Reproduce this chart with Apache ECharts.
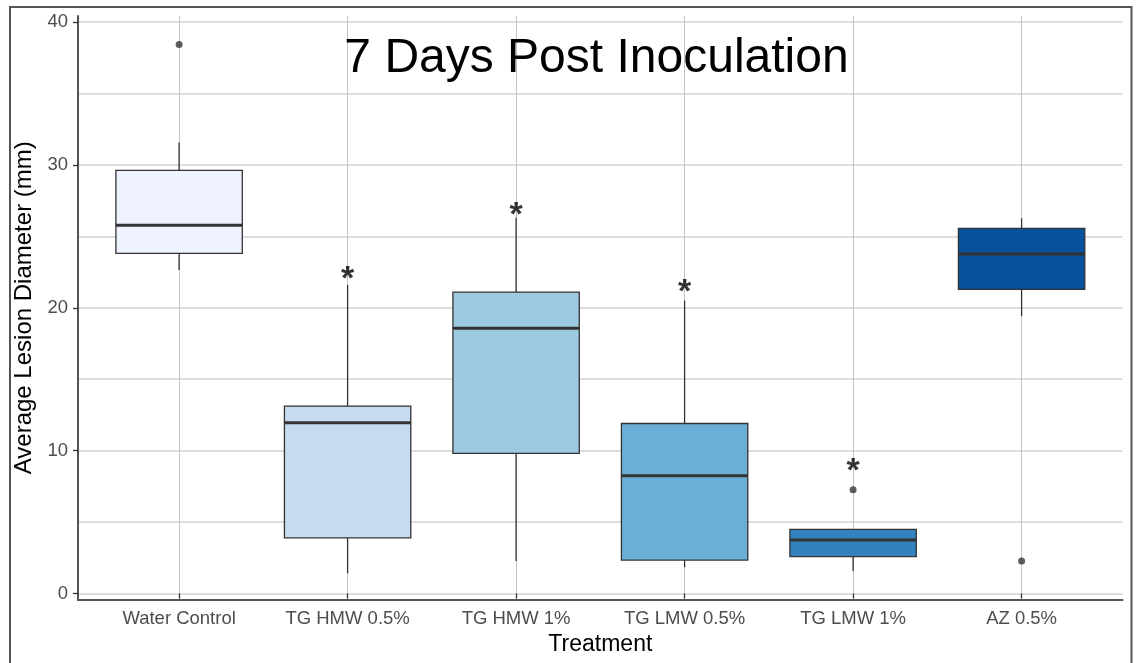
<!DOCTYPE html>
<html lang="en">
<head>
    <meta http-equiv="Content-Type" content="text/html; charset=UTF-8">
    <title>7 Days Post Inoculation</title>
    <script type="text/javascript" src="https://cdn.jsdelivr.net/npm/echarts@6/dist/echarts.min.js"></script>
</head>
<body style="margin:0;width:1140px;height:663px;background:#fff">

<div id="main" style="width:1140px;height:663px"></div>

<script type="text/javascript">
    // values
    var categories = ['Water Control', 'TG HMW 0.5%', 'TG HMW 1%', 'TG LMW 0.5%', 'TG LMW 1%', 'AZ 0.5%'];
    var whiskerLow  = [22.64, 1.41, 2.27, 1.83, 1.57, 19.42];
    var q1          = [23.81, 3.90, 9.81, 2.34, 2.58, 21.29];
    var medians     = [25.77, 11.95, 18.56, 8.24, 3.74, 23.76];
    var q3          = [29.62, 13.12, 21.10, 11.90, 4.49, 25.56];
    var whiskerHigh = [31.57, 21.59, 26.30, 20.50, 4.49, 26.26];
    var outliers    = [[0, 38.43], [4, 7.26], [5, 2.27]];
    var asterisks   = [[1, 22.3], [2, 26.8], [3, 21.4], [4, 8.9]];
    var yTicks      = [0, 40, 10];   // min, max, step

    var fills = ['#EFF3FF', '#C6DBEF', '#9ECAE1', '#6BAED6', '#3182BD', '#08519C'];
    var font = '"Liberation Sans", Arial, sans-serif';

    var boxData = categories.map(function (c, i) {
        return [i, whiskerLow[i], q1[i], medians[i], q3[i], whiskerHigh[i]];
    });

    var myChart = echarts.init(document.getElementById('main'));

    function renderBox(params, api) {
        var x = api.value(0);
        var lo = api.coord([x, api.value(1)]);
        var b1 = api.coord([x, api.value(2)]);
        var md = api.coord([x, api.value(3)]);
        var b3 = api.coord([x, api.value(4)]);
        var hi = api.coord([x, api.value(5)]);
        var half = api.size([1, 0])[0] * 0.75 / 2;
        var stroke = {stroke: '#333333', lineWidth: 1.3};
        return {
            type: 'group',
            children: [
                {type: 'line', shape: {x1: lo[0], y1: lo[1], x2: b1[0], y2: b1[1]}, style: stroke},
                {type: 'line', shape: {x1: b3[0], y1: b3[1], x2: hi[0], y2: hi[1]}, style: stroke},
                {
                    type: 'rect',
                    shape: {x: b3[0] - half, y: b3[1], width: half * 2, height: b1[1] - b3[1]},
                    style: {fill: fills[params.dataIndex], stroke: '#333333', lineWidth: 1.3}
                },
                {
                    type: 'line',
                    shape: {x1: md[0] - half, y1: md[1], x2: md[0] + half, y2: md[1]},
                    style: {stroke: '#333333', lineWidth: 3}
                }
            ]
        };
    }

    myChart.setOption({
        animation: false,
        backgroundColor: '#ffffff',
        textStyle: {fontFamily: font},
        graphic: [
            {
                type: 'rect', silent: true, z: 100,
                shape: {x: 10, y: 7, width: 1121.5, height: 700},
                style: {fill: 'none', stroke: '#555555', lineWidth: 2}
            },
            {
                type: 'text', z: 100,
                x: 596.5, y: 58.4,
                style: {
                    text: '7 Days Post Inoculation',
                    fontSize: 48, fontFamily: font, fill: '#000000',
                    align: 'center', verticalAlign: 'middle'
                }
            }
        ],
        grid: [
            // boxes + category axis (category centres at the grid edges)
            {left: 179.1, right: 118.4, top: 16, bottom: 63, outerBoundsMode: 'none', containLabel: false},
            // y labels and horizontal grid lines
            {left: 78, right: 17.5, top: 22, bottom: 69.5, outerBoundsMode: 'none', containLabel: false},
            // panel axis lines
            {left: 78, right: 17.5, top: 16, bottom: 63, outerBoundsMode: 'none', containLabel: false}
        ],
        xAxis: [
            {
                gridIndex: 0, type: 'category', data: categories, boundaryGap: false,
                axisLine: {show: false},
                axisTick: {show: true, interval: 0, length: 5, lineStyle: {color: '#333333', width: 1.3}},
                axisLabel: {interval: 0, margin: 9, fontSize: 18.5, color: '#4D4D4D', fontFamily: font},
                splitLine: {show: true, interval: 0, lineStyle: {color: '#c2c2c2', width: 1}},
                name: 'Treatment', nameLocation: 'middle', nameGap: 32,
                nameTextStyle: {fontSize: 23, color: '#000000', fontFamily: font}
            },
            {gridIndex: 1, type: 'value', show: false, min: 0, max: 1},
            {
                gridIndex: 2, type: 'value', min: 0, max: 1,
                axisLine: {show: true, onZero: false, lineStyle: {color: '#555555', width: 2}},
                axisTick: {show: false}, axisLabel: {show: false}, splitLine: {show: false}
            }
        ],
        yAxis: [
            {gridIndex: 0, type: 'value', min: -0.455, max: 40.42, show: false, splitLine: {show: false}},
            {
                gridIndex: 1, type: 'value', min: yTicks[0], max: yTicks[1], interval: yTicks[2],
                axisLine: {show: false},
                axisTick: {show: true, length: 5, lineStyle: {color: '#333333', width: 1.3}},
                axisLabel: {margin: 10, fontSize: 18.5, color: '#4D4D4D', fontFamily: font},
                splitLine: {show: true, lineStyle: {color: '#d2d2d2', width: 1.6}},
                minorTick: {show: false, splitNumber: 2},
                minorSplitLine: {show: true, lineStyle: {color: '#d2d2d2', width: 1.6}},
                name: 'Average Lesion Diameter (mm)', nameLocation: 'middle', nameGap: 36,
                nameTextStyle: {fontSize: 24, color: '#000000', fontFamily: font}
            },
            {
                gridIndex: 2, type: 'value', min: 0, max: 1,
                axisLine: {show: true, onZero: false, lineStyle: {color: '#555555', width: 2}},
                axisTick: {show: false}, axisLabel: {show: false}, splitLine: {show: false}
            }
        ],
        series: [
            {
                name: 'box', type: 'custom', xAxisIndex: 0, yAxisIndex: 0,
                renderItem: renderBox,
                encode: {x: 0, y: [1, 2, 3, 4, 5]},
                data: boxData, z: 3
            },
            {
                name: 'outliers', type: 'scatter', xAxisIndex: 0, yAxisIndex: 0,
                symbol: 'circle', symbolSize: 7,
                itemStyle: {color: '#333333'},
                data: outliers, z: 4
            },
            {
                name: 'significance', type: 'scatter', xAxisIndex: 0, yAxisIndex: 0,
                symbolSize: 0,
                label: {
                    show: true, position: 'inside', formatter: '*',
                    fontSize: 34, fontWeight: 'bold', color: '#000000', fontFamily: font,
                    offset: [0, 5]
                },
                data: asterisks, z: 5
            }
        ]
    });
</script>
</body>
</html>
